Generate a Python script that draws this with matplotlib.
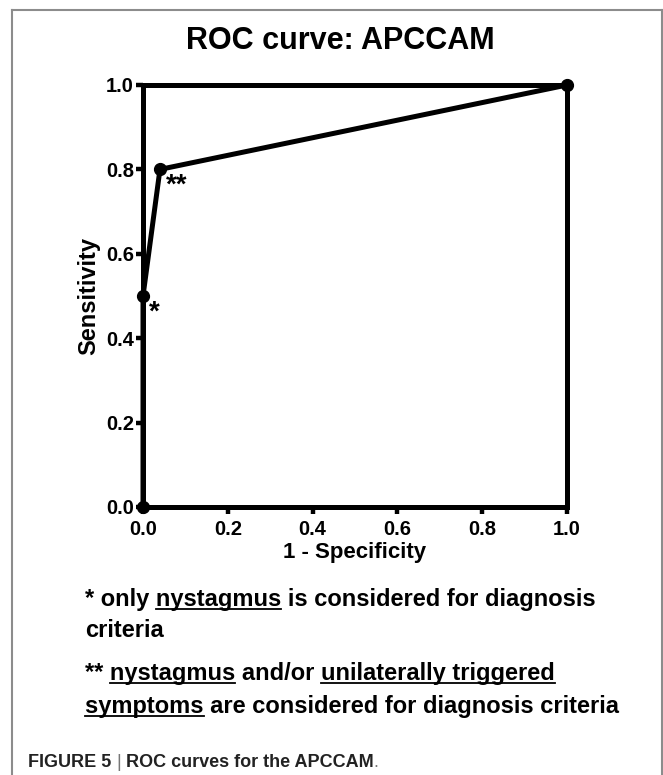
import matplotlib
matplotlib.use('Agg')
import matplotlib.pyplot as plt
from matplotlib.lines import Line2D

# ROC points (1 - specificity, sensitivity)
fpr = [0.0, 0.0, 0.04, 1.0]
tpr = [0.0, 0.5, 0.80, 1.0]
point_marks = {1: '*', 2: '**'}
ticks = [0.0, 0.2, 0.4, 0.6, 0.8, 1.0]
tick_labels = ['0.0', '0.2', '0.4', '0.6', '0.8', '1.0']

title = 'ROC curve: APCCAM'
xlabel = '1 - Specificity'
ylabel = 'Sensitivity'

# footnote lines: list of (text, underlined)
notes = [
    [('* only ', False), ('nystagmus', True), (' is considered for diagnosis', False)],
    [('criteria', False)],
    [('** ', False), ('nystagmus', True), (' and/or ', False), ('unilaterally triggered', True)],
    [('symptoms', True), (' are considered for diagnosis criteria', False)],
]
caption = [('FIGURE 5 ', 'bold'), ('|', 'normal'), (' ROC curves for the APCCAM', 'bold'), ('.', 'normal')]

plt.rcParams['font.family'] = ['Liberation Sans', 'DejaVu Sans']

W, H = 663, 775
fig = plt.figure(figsize=(W / 100, H / 100), dpi=100)

# outer frame (open at the bottom)
frame_kw = dict(color='#8c8c8c', lw=1.5, transform=fig.transFigure)
fig.add_artist(Line2D([12 / W, 12 / W], [0, 1 - 10 / H], **frame_kw))
fig.add_artist(Line2D([12 / W, 662 / W], [1 - 10 / H, 1 - 10 / H], **frame_kw))
fig.add_artist(Line2D([662 / W, 662 / W], [0, 1 - 10 / H], **frame_kw))

ax = fig.add_axes([143 / W, 1 - 507 / H, 424 / W, 422 / H])
ax.plot(fpr, tpr, color='black', lw=3.6, marker='o', markersize=8.5,
        solid_joinstyle='miter', clip_on=False, zorder=5)
for i, m in point_marks.items():
    ax.annotate(m, (fpr[i], tpr[i]), xytext=(4.5, -2.5), textcoords='offset points',
                ha='left', va='top', fontsize=20, fontweight='bold')

ax.set_xlim(0, 1)
ax.set_ylim(0, 1)
ax.set_xticks(ticks, tick_labels)
ax.set_yticks(ticks, tick_labels)
for s in ax.spines.values():
    s.set_linewidth(3.6)
ax.tick_params(width=3.2, length=5, labelsize=14.5, pad=1.5)
ax.tick_params(axis='x', pad=4.5)
for lab in ax.get_xticklabels() + ax.get_yticklabels():
    lab.set_fontweight('bold')
ax.set_xlabel(xlabel, fontsize=16, fontweight='bold', labelpad=2)
ax.set_ylabel(ylabel, fontsize=17, fontweight='bold', labelpad=4)
fig.text(340 / W, 1 - 41 / H, title, ha='center', va='center', fontsize=22, fontweight='bold')

renderer = fig.canvas.get_renderer()


def text_width(s, **kw):
    t = fig.text(0, 0, s + '|', **kw)
    w = t.get_window_extent(renderer).width
    t.remove()
    t = fig.text(0, 0, '|', **kw)
    w -= t.get_window_extent(renderer).width
    t.remove()
    return w


note_kw = dict(fontsize=17, fontweight='bold')
note_y = [606, 637, 680, 713]
for parts, yb in zip(notes, note_y):
    full = ''.join(p for p, _ in parts)
    fig.text(85 / W, 1 - yb / H, full, ha='left', va='baseline', **note_kw)
    x = 85
    for p, u in parts:
        w = text_width(p, **note_kw)
        if u:
            fig.add_artist(Line2D([x / W, (x + w) / W], [1 - (yb + 3) / H] * 2,
                                  color='black', lw=1.3, transform=fig.transFigure))
        x += w

x = 28
for p, wt in caption:
    kw = dict(fontsize=13, fontweight=wt, color='#222222' if wt == 'bold' else '#777777')
    fig.text(x / W, 1 - 767 / H, p, ha='left', va='baseline', **kw)
    x += text_width(p, **kw)

fig.savefig('out.png', dpi=100)
